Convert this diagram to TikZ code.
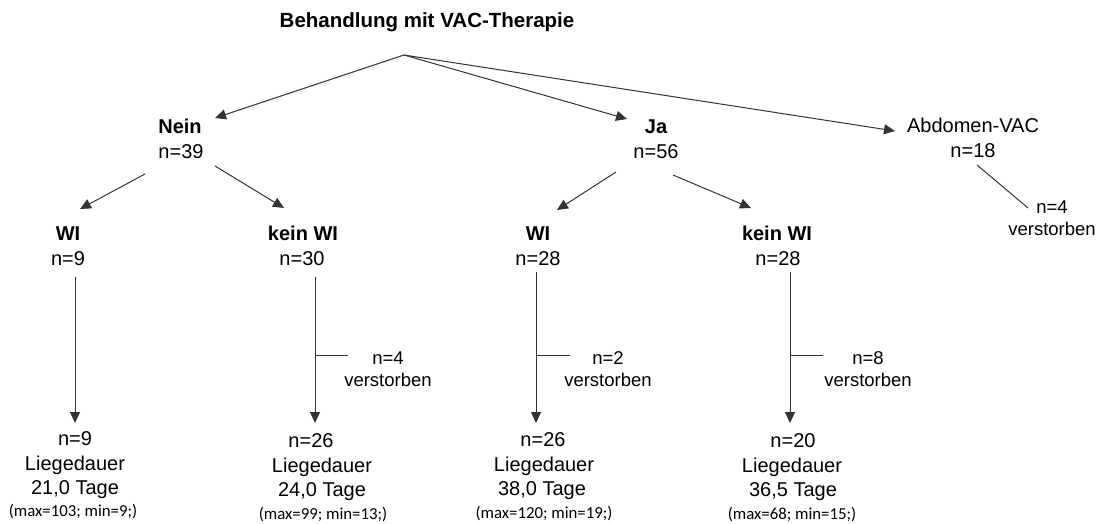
\documentclass[tikz,border=0pt]{standalone}
\usepackage{fontspec}
\setmainfont{Liberation Sans}
\newfontfamily\carl{Carlito}
\usetikzlibrary{arrows.meta}
\tikzset{
  lbl/.style={inner sep=0pt, anchor=base, font=\fontsize{20}{24}\selectfont},
  blbl/.style={inner sep=0pt, anchor=base, font=\fontsize{20}{24}\selectfont\bfseries},
  ttl/.style={inner sep=0pt, anchor=base, font=\fontsize{20.5}{24}\selectfont\bfseries},
  side/.style={inner sep=0pt, anchor=base, font=\fontsize{18.5}{22}\selectfont},
  mm/.style={inner sep=0pt, anchor=base, font=\fontsize{16.8}{20}\selectfont\carl},
  conn/.style={draw=black!80, line width=1pt},
  arr/.style={conn, -{Triangle[length=11pt,width=10pt]}}
}
\begin{document}
\begin{tikzpicture}[x=1pt,y=-1pt]
\useasboundingbox (0,0) rectangle (1109,523);
% title
\node[ttl] (title) at (427,27) {Behandlung mit VAC-Therapie};
\coordinate (root) at (404,55);
% level 1
\node[blbl] (nein) at (180,133) {Nein};
\node[lbl] (nein n) at (181,158) {n=39};
\node[blbl] (ja) at (656,133) {Ja};
\node[lbl] (ja n) at (656,158) {n=56};
\node[lbl] (abd) at (973,132) {Abdomen-VAC};
\node[lbl] (abd n) at (973,157) {n=18};
\coordinate (neinTip) at (215,118);
\coordinate (jaTip) at (627,119);
\coordinate (abdTip) at (895,131);
\draw[arr] (root) -- (neinTip);
\draw[arr] (root) -- (jaTip);
\draw[arr] (root) -- (abdTip);
% abdomen deaths
\node[side] (abd d n) at (1052,213) {n=4};
\node[side] (abd d) at (1052,235) {verstorben};
\coordinate (abdA) at (977,165);
\coordinate (abdB) at (1028,208);
\draw[conn] (abdA) -- (abdB);
% level 2
\node[blbl] (wi1) at (68,240) {WI};
\node[lbl] (wi1 n) at (68,265) {n=9};
\node[blbl] (kwi1) at (303,240) {kein WI};
\node[lbl] (kwi1 n) at (302,265) {n=30};
\node[blbl] (wi2) at (538,240) {WI};
\node[lbl] (wi2 n) at (538,265) {n=28};
\node[blbl] (kwi2) at (777,240) {kein WI};
\node[lbl] (kwi2 n) at (778,265) {n=28};
\coordinate (n1a) at (145,174);
\coordinate (n1b) at (80,209);
\coordinate (n2a) at (215,166);
\coordinate (n2b) at (284,208);
\coordinate (j1a) at (616,172);
\coordinate (j1b) at (557,210);
\coordinate (j2a) at (673,175);
\coordinate (j2b) at (751,208);
\draw[arr] (n1a) -- (n1b);
\draw[arr] (n2a) -- (n2b);
\draw[arr] (j1a) -- (j1b);
\draw[arr] (j2a) -- (j2b);
% vertical arrows
\coordinate (v1a) at (75,277);   \coordinate (v1b) at (75,423);
\coordinate (v2a) at (315,277);  \coordinate (v2b) at (315,423);
\coordinate (v3a) at (536,272);  \coordinate (v3b) at (536,423);
\coordinate (v4a) at (790,272);  \coordinate (v4b) at (790,423);
\draw[arr] (v1a) -- (v1b);
\draw[arr] (v2a) -- (v2b);
\draw[arr] (v3a) -- (v3b);
\draw[arr] (v4a) -- (v4b);
% side branches
\coordinate (s2a) at (315,355); \coordinate (s2b) at (348,355);
\coordinate (s3a) at (536,355); \coordinate (s3b) at (570,355);
\coordinate (s4a) at (790,355); \coordinate (s4b) at (823,355);
\draw[conn] (s2a) -- (s2b);
\draw[conn] (s3a) -- (s3b);
\draw[conn] (s4a) -- (s4b);
\node[side] (d2n) at (388,364) {n=4};
\node[side] (d2) at (388,386) {verstorben};
\node[side] (d3n) at (608,364) {n=2};
\node[side] (d3) at (608,386) {verstorben};
\node[side] (d4n) at (868,364) {n=8};
\node[side] (d4) at (868,386) {verstorben};
% bottom
\node[lbl] (b1n) at (75,445) {n=9};
\node[lbl] (b1l) at (75,470) {Liegedauer};
\node[lbl] (b1t) at (75,494) {21,0 Tage};
\node[mm] (b1m) at (73,516) {(max=103; min=9;)};
\node[lbl] (b2n) at (311,447) {n=26};
\node[lbl] (b2l) at (322,472) {Liegedauer};
\node[lbl] (b2t) at (322,496) {24,0 Tage};
\node[mm] (b2m) at (323,519) {(max=99; min=13;)};
\node[lbl] (b3n) at (543,446) {n=26};
\node[lbl] (b3l) at (544,471) {Liegedauer};
\node[lbl] (b3t) at (542,495) {38,0 Tage};
\node[mm] (b3m) at (544,518) {(max=120; min=19;)};
\node[lbl] (b4n) at (793,447) {n=20};
\node[lbl] (b4l) at (792,472) {Liegedauer};
\node[lbl] (b4t) at (793,496) {36,5 Tage};
\node[mm] (b4m) at (792,519) {(max=68; min=15;)};
\end{tikzpicture}
\end{document}
